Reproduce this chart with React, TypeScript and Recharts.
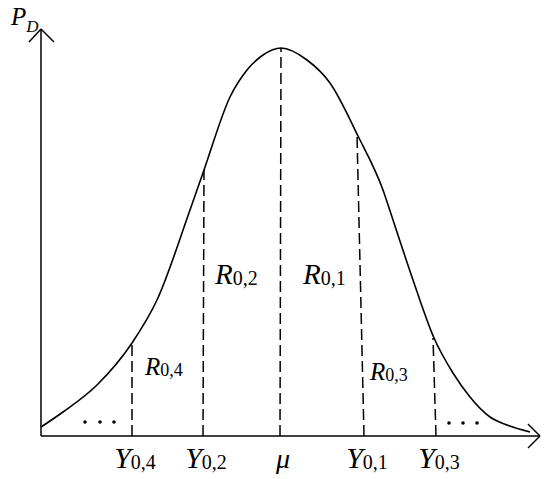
import React from 'react'
import { LineChart, Line, XAxis, YAxis, ReferenceLine, ReferenceDot } from 'recharts'

// curve (x along the axis, y = density height)
const curveX = [0, 22, 56, 91, 116, 149, 163, 189, 206, 222, 240, 266, 289, 317, 342, 352, 372, 393, 412, 429, 449, 466, 489]
const curveY = [9, 24, 51, 93, 136, 226, 266, 339, 366, 381, 388, 376, 353, 300, 246, 216, 156, 98, 63, 39, 19, 11, 4]

// dashed cuts and their axis labels
const cutNames = ['Y', 'Y', 'μ', 'Y', 'Y']
const cutSubs = ['0,4', '0,2', '', '0,1', '0,3']
const cutBase = [91, 162, 239, 323, 395]
const cutTopX = [91, 163, 240, 316, 392]
const cutTopY = [93, 266, 388, 301, 98]

// region labels
const regionSubs = ['0,4', '0,2', '0,1', '0,3']
const regionX = [104, 174, 262, 329]
const regionY = [61, 152, 152, 56]
const regionBig = [false, true, true, false]

// ellipsis dots at both tails
const dotsX = [44, 59, 73, 408, 422, 436]
const dotsY = [14, 14, 14, 13, 13, 13]

const data = curveX.map((x, i) => ({ x, y: curveY[i] }))
const font = '"Liberation Serif", "Times New Roman", serif'

const CutTick = (props: any) => {
    const { x, y, payload } = props
    const i = cutBase.indexOf(payload.value)
    if (i < 0) return null
    return (
        <text x={x + 3} y={y + 24} textAnchor="middle" fontFamily={font} fill="#000">
            <tspan fontStyle="italic" fontSize={cutSubs[i] ? 30 : 28}>{cutNames[i]}</tspan>
            {cutSubs[i] && <tspan fontSize={20} dy={1}>{cutSubs[i]}</tspan>}
        </text>
    )
}

const RegionLabel = (sub: string, big: boolean) => (p: any) => (
    <text x={p.cx} y={p.cy} fontFamily={font} fill="#000">
        <tspan fontStyle="italic" fontSize={big ? 29 : 25}>R</tspan>
        <tspan fontSize={big ? 20 : 18} dy={1}>{sub}</tspan>
    </text>
)

const AxisName = (p: any) => (
    <text x={p.cx} y={p.cy} fontFamily={font} fill="#000" fontStyle="italic">
        <tspan fontSize={25}>P</tspan>
        <tspan fontSize={17} dy={7}>D</tspan>
    </text>
)

const App = () => {
    return (
        <div style={{ position: 'absolute', left: 0, top: 0, background: '#fff' }}>
            <LineChart width={550} height={479} data={data} margin={{ top: 29, right: 10, bottom: 0, left: 0 }}>
                <XAxis
                    type="number"
                    dataKey="x"
                    domain={[0, 499]}
                    ticks={cutBase}
                    interval={0}
                    tickLine={false}
                    tick={<CutTick />}
                    height={43}
                    axisLine={{ stroke: '#000', strokeWidth: 1.5 }}
                />
                <YAxis
                    type="number"
                    domain={[0, 407]}
                    tick={false}
                    tickLine={false}
                    width={41}
                    axisLine={{ stroke: '#000', strokeWidth: 1.5 }}
                />
                {/* arrow heads */}
                <ReferenceLine segment={[{ x: 487, y: 12 }, { x: 499, y: 0 }]} stroke="#000" strokeWidth={1.5} ifOverflow="visible" />
                <ReferenceLine segment={[{ x: 487, y: -12 }, { x: 499, y: 0 }]} stroke="#000" strokeWidth={1.5} ifOverflow="visible" />
                <ReferenceLine segment={[{ x: -12, y: 394 }, { x: 0, y: 407 }]} stroke="#000" strokeWidth={1.5} ifOverflow="visible" />
                <ReferenceLine segment={[{ x: 13, y: 394 }, { x: 0, y: 407 }]} stroke="#000" strokeWidth={1.5} ifOverflow="visible" />

                {cutBase.map((b, i) => (
                    <ReferenceLine
                        key={'cut' + i}
                        segment={[{ x: b, y: 0 }, { x: cutTopX[i], y: cutTopY[i] }]}
                        stroke="#000"
                        strokeWidth={1.5}
                        strokeDasharray="11 5"
                        ifOverflow="visible"
                    />
                ))}

                {regionSubs.map((s, i) => (
                    <ReferenceDot key={'r' + i} x={regionX[i]} y={regionY[i]} r={0} ifOverflow="visible" shape={RegionLabel(s, regionBig[i])} />
                ))}

                {dotsX.map((d, i) => (
                    <ReferenceDot key={'d' + i} x={d} y={dotsY[i]} r={1.8} fill="#000" stroke="none" ifOverflow="visible" />
                ))}

                <ReferenceDot x={-30} y={411} r={0} ifOverflow="visible" shape={AxisName} />

                <Line type="monotone" dataKey="y" stroke="#000" strokeWidth={1.6} dot={false} isAnimationActive={false} />
            </LineChart>
        </div>
    )
}

export default App
